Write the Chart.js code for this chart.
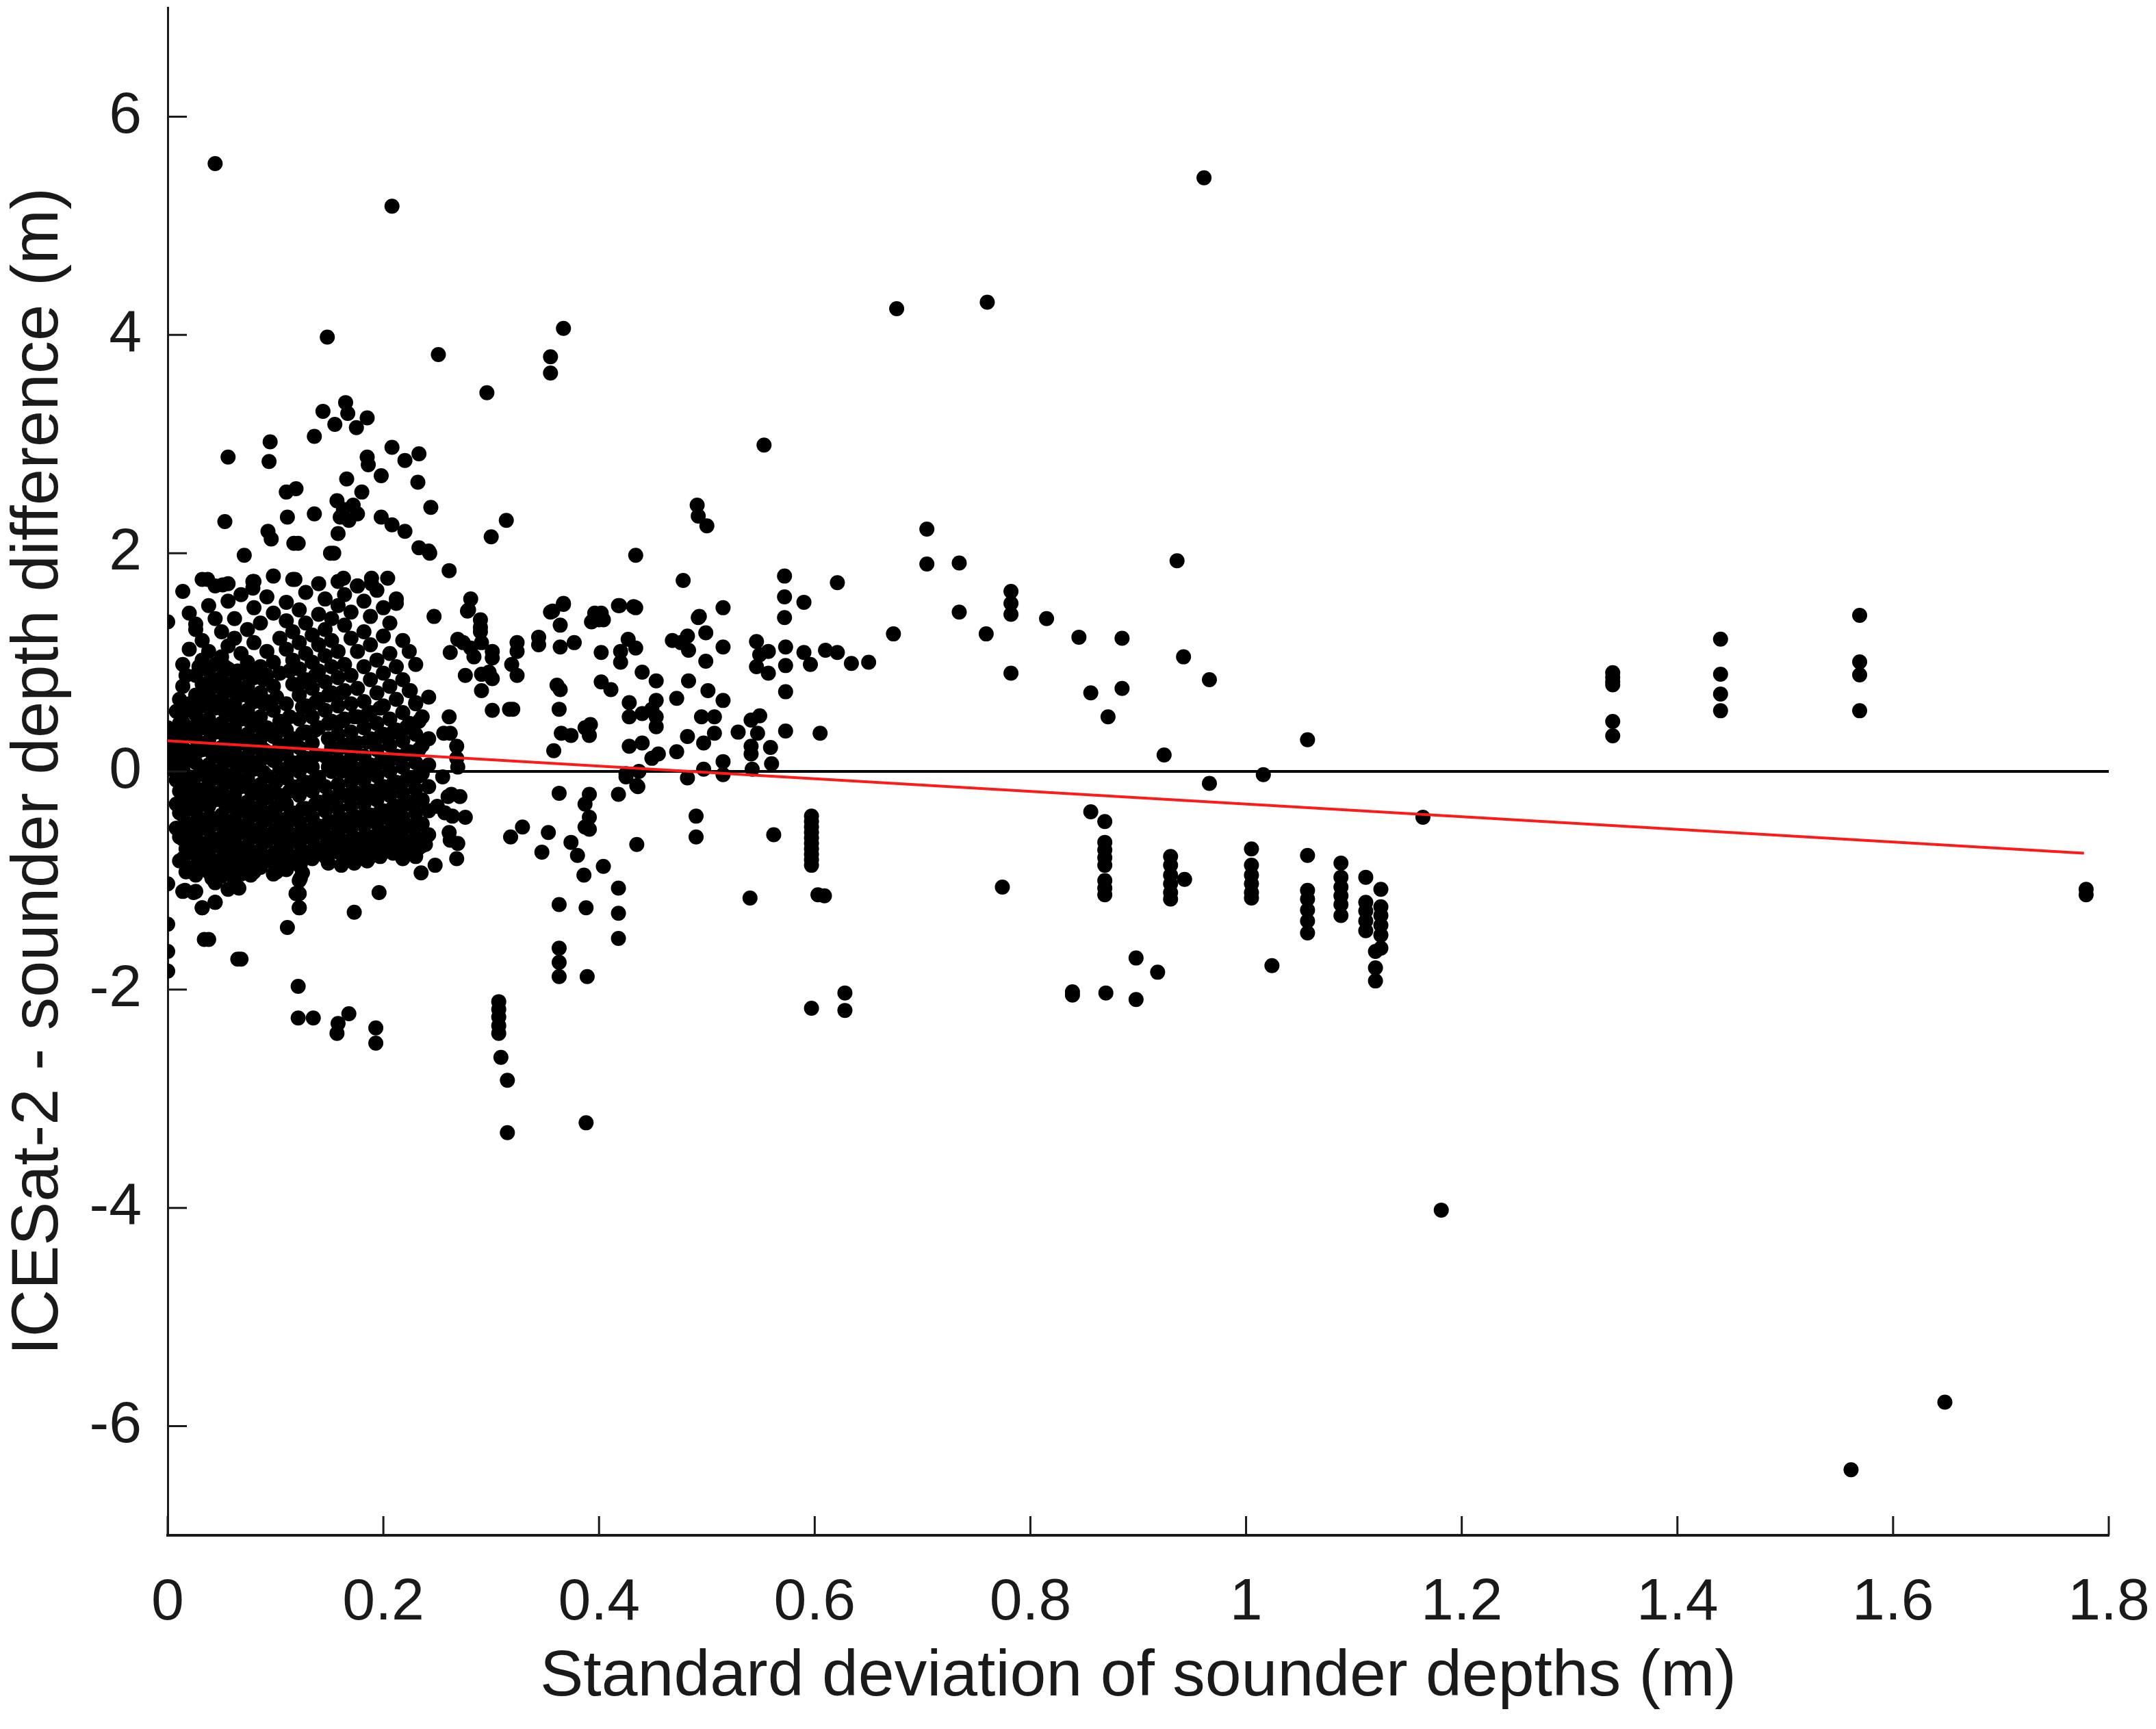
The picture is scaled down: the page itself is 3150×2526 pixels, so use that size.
<!DOCTYPE html>
<html>
<head>
<meta charset="utf-8">
<style>
html,body{margin:0;padding:0;background:#fff;}
canvas{display:block;}
</style>
<script src="https://cdn.jsdelivr.net/npm/chart.js@4.4.1/dist/chart.umd.min.js"></script>
</head>
<body>
<canvas id="c" width="3150" height="2526"></canvas>
<script>
// ---------- axis ticks ----------
const xTicks = [0, 0.2, 0.4, 0.6, 0.8, 1, 1.2, 1.4, 1.6, 1.8];
const xTickLabels = ['0', '0.2', '0.4', '0.6', '0.8', '1', '1.2', '1.4', '1.6', '1.8'];
const yTicks = [-6, -4, -2, 0, 2, 4, 6];
const yTickLabels = ['-6', '-4', '-2', '0', '2', '4', '6'];
const xTitle = 'Standard deviation of sounder depths (m)';
const yTitle = 'ICESat-2 - sounder depth difference (m)';

// ---------- dense cluster, read as columns: [sd, [differences...]] ----------
const clusterColumns = [
  [0.008, [0.55, 0.32, 0.12, -0.08, -0.30, -0.52]],
  [0.014, [1.65, 0.98, 0.78, 0.45, 0.22, 0.02, -0.18, -0.40, -0.62, -0.80, -1.10]],
  [0.020, [1.45, 1.12, 0.62, 0.40, 0.18, -0.05, -0.26, -0.48, -0.68, -0.88]],
  [0.026, [1.35, 1.30, 0.88, 0.70, 0.52, 0.30, 0.08, -0.15, -0.36, -0.58, -0.76, -0.95, -1.10]],
  [0.032, [1.76, 1.20, 1.02, 0.80, 0.60, 0.40, 0.20, -0.02, -0.22, -0.44, -0.66, -0.84, -1.25]],
  [0.038, [1.52, 1.10, 0.92, 0.70, 0.48, 0.28, 0.06, -0.12, -0.32, -0.54, -0.74, -0.92, -1.54]],
  [0.044, [1.70, 1.40, 0.98, 0.78, 0.58, 0.36, 0.14, -0.06, -0.26, -0.48, -0.68, -0.86, -1.02, -1.20]],
  [0.050, [1.28, 1.05, 0.86, 0.66, 0.44, 0.22, 0.02, -0.18, -0.40, -0.60, -0.80, -0.96]],
  [0.056, [1.72, 1.56, 1.15, 0.94, 0.74, 0.52, 0.30, 0.10, -0.10, -0.32, -0.54, -0.74, -0.90, -1.08]],
  [0.062, [1.40, 1.22, 0.82, 0.62, 0.40, 0.18, -0.02, -0.22, -0.44, -0.64, -0.84, -1.00]],
  [0.068, [1.62, 1.08, 0.90, 0.70, 0.48, 0.26, 0.06, -0.14, -0.36, -0.56, -0.76, -0.94, -1.72]],
  [0.074, [1.30, 1.00, 0.78, 0.56, 0.34, 0.14, -0.06, -0.28, -0.48, -0.68, -0.86]],
  [0.080, [1.74, 1.50, 1.18, 0.86, 0.64, 0.42, 0.22, 0.02, -0.20, -0.40, -0.60, -0.78, -0.92]],
  [0.086, [1.36, 0.96, 0.72, 0.50, 0.30, 0.10, -0.12, -0.32, -0.52, -0.72, -0.88]],
  [0.092, [1.60, 1.10, 0.88, 0.64, 0.40, 0.18, -0.04, -0.24, -0.44, -0.64, -0.82]],
  [0.098, [1.79, 1.45, 1.00, 0.78, 0.56, 0.32, 0.10, -0.16, -0.36, -0.56, -0.76, -0.94]],
  [0.104, [1.22, 0.90, 0.46, 0.24, 0.02, -0.22, -0.44, -0.64, -0.84]],
  [0.110, [1.55, 1.38, 1.12, 0.62, 0.38, 0.16, -0.06, -0.30, -0.52, -0.72, -0.90]],
  [0.116, [1.76, 1.28, 1.02, 0.80, 0.30, 0.08, -0.14, -0.38, -0.58, -0.78]],
  [0.122, [1.48, 1.18, 0.94, 0.70, 0.48, 0.22, 0.00, -0.22, -0.46, -0.66, -0.86, -1.00, -1.12, -1.25]],
  [0.128, [1.64, 1.36, 1.08, 0.84, 0.60, 0.36, 0.12, -0.10, -0.34, -0.54, -0.74]],
  [0.134, [1.25, 1.00, 0.76, 0.50, 0.26, 0.04, -0.18, -0.42, -0.62, -0.80]],
  [0.140, [1.72, 1.44, 1.16, 0.92, 0.66, 0.40, -0.06, -0.28, -0.50, -0.70]],
  [0.146, [1.58, 1.30, 1.06, 0.82, 0.56, 0.14, -0.14, -0.36, -0.58, -0.78]],
  [0.152, [1.40, 1.20, 0.96, 0.72, 0.46, 0.22, 0.00, -0.24, -0.46, -0.66]],
  [0.158, [1.74, 1.52, 1.10, 0.86, 0.60, 0.34, 0.10, -0.12, -0.34, -0.56, -0.74]],
  [0.164, [1.62, 1.34, 0.98, 0.74, 0.48, 0.24, 0.02, -0.22, -0.44, -0.64, -0.82]],
  [0.170, [1.46, 1.22, 0.88, 0.62, 0.36, 0.12, -0.10, -0.32, -0.52, -0.72]],
  [0.176, [1.70, 1.10, 0.76, 0.50, 0.26, 0.02, -0.20, -0.42, -0.62, -0.80]],
  [0.182, [1.56, 1.28, 0.96, 0.64, 0.40, 0.14, -0.08, -0.30, -0.50, -0.70]],
  [0.188, [1.42, 1.16, 0.84, 0.54, 0.30, 0.06, -0.18, -0.40, -0.60, -0.78]],
  [0.194, [1.66, 1.02, 0.72, 0.44, 0.20, -0.04, -0.26, -0.48, -0.68]],
  [0.200, [1.50, 1.24, 0.90, 0.60, 0.34, 0.10, -0.14, -0.36, -0.56, -0.74]],
  [0.206, [1.36, 1.08, 0.78, 0.48, 0.24, 0.00, -0.22, -0.44, -0.64]],
  [0.212, [1.58, 0.96, 0.66, 0.38, 0.14, -0.10, -0.32, -0.52, -0.72]],
  [0.218, [1.20, 0.84, 0.54, 0.28, 0.04, -0.20, -0.42, -0.62, -0.80]],
  [0.224, [1.10, 0.74, 0.44, 0.18, -0.06, -0.28, -0.50, -0.70]],
  [0.230, [0.98, 0.62, 0.34, 0.08, -0.16, -0.38, -0.60, -0.78]],
  [0.236, [0.50, 0.24, -0.02, -0.26, -0.48, -0.68]],
  [0.242, [0.68, 0.30, 0.06, -0.14, -0.36, -0.58]]
];

// core of the cluster, read between the columns above
const coreColumns = [
  [0.011, [0.66, 0.44, 0.24, 0.04, -0.18, -0.38, -0.60, -0.82]],
  [0.017, [0.88, 0.56, 0.33, 0.12, -0.08, -0.29, -0.51, -0.71, -0.92]],
  [0.029, [0.96, 0.62, 0.41, 0.19, -0.03, -0.26, -0.47, -0.68, -0.86]],
  [0.041, [0.84, 0.60, 0.38, 0.17, -0.04, -0.22, -0.43, -0.64, -0.82, -0.98]],
  [0.053, [0.96, 0.76, 0.55, 0.33, 0.12, -0.08, -0.29, -0.50, -0.70, -0.88]],
  [0.065, [0.92, 0.72, 0.51, 0.29, 0.08, -0.12, -0.33, -0.54, -0.73, -0.90]],
  [0.077, [0.90, 0.67, 0.45, 0.24, 0.04, -0.17, -0.38, -0.58, -0.77, -0.95]],
  [0.089, [0.84, 0.62, 0.40, 0.20, -0.01, -0.22, -0.42, -0.62, -0.80]],
  [0.101, [0.68, 0.35, 0.13, -0.09, -0.33, -0.54, -0.74, -0.92]],
  [0.113, [0.92, 0.50, 0.27, 0.05, -0.18, -0.41, -0.62, -0.82]],
  [0.125, [0.82, 0.59, 0.35, 0.11, -0.11, -0.34, -0.56, -0.76, -0.93]],
  [0.137, [0.88, 0.63, 0.38, 0.15, -0.07, -0.30, -0.52, -0.72]],
  [0.149, [0.70, 0.44, 0.30, 0.04, -0.25, -0.47, -0.68, -0.84]],
  [0.161, [0.72, 0.46, 0.22, 0.00, -0.22, -0.45, -0.66, -0.86]],
  [0.173, [0.50, 0.24, 0.00, -0.21, -0.43, -0.63, -0.84]],
  [0.185, [0.52, 0.27, 0.03, -0.19, -0.41, -0.61, -0.82]],
  [0.197, [0.58, 0.32, 0.08, -0.15, -0.37, -0.58, -0.78]],
  [0.209, [0.36, 0.12, -0.11, -0.33, -0.54, -0.75]],
  [0.221, [0.40, 0.16, -0.08, -0.30, -0.51, -0.73]],
  [0.233, [0.46, 0.20, -0.04, -0.27, -0.49, -0.70]]
];

// ---------- scattered points [sd, difference] ----------
const axisPoints = [
  [0.0, 1.37], [0.0, 0.40], [0.0, 0.30], [0.0, 0.20], [0.0, 0.10], [0.0, 0.02],
  [0.0, -1.03], [0.0, -1.40], [0.0, -1.65], [0.0, -1.83]
];

const upperPoints = [
  [0.044, 5.57], [0.208, 5.18], [0.148, 3.98], [0.251, 3.82], [0.355, 3.80], [0.355, 3.65],
  [0.367, 4.06], [0.296, 3.47], [0.553, 2.99], [0.676, 4.24], [0.760, 4.30], [0.961, 5.44],
  [0.144, 3.30], [0.165, 3.38], [0.167, 3.28], [0.155, 3.18], [0.175, 3.15], [0.185, 3.24],
  [0.136, 3.07], [0.095, 3.02], [0.094, 2.84], [0.056, 2.88], [0.208, 2.97], [0.220, 2.85],
  [0.233, 2.91], [0.185, 2.88], [0.186, 2.81], [0.198, 2.71], [0.232, 2.65], [0.166, 2.68],
  [0.180, 2.56], [0.157, 2.48], [0.163, 2.40], [0.172, 2.44], [0.160, 2.33], [0.168, 2.30],
  [0.176, 2.36], [0.110, 2.56], [0.119, 2.59], [0.111, 2.33], [0.136, 2.36], [0.053, 2.29],
  [0.198, 2.33], [0.208, 2.26], [0.220, 2.20], [0.244, 2.42], [0.314, 2.30], [0.300, 2.15],
  [0.491, 2.44], [0.492, 2.34], [0.500, 2.25], [0.158, 2.18], [0.093, 2.20], [0.096, 2.13],
  [0.117, 2.09], [0.121, 2.09], [0.151, 2.00], [0.154, 2.00], [0.071, 1.98], [0.233, 2.05],
  [0.243, 2.00], [0.261, 1.84], [0.434, 1.98], [0.242, 2.02]
];

const midPoints = [
  [0.478, 1.75], [0.572, 1.79], [0.572, 1.60], [0.572, 1.41], [0.590, 1.55], [0.515, 1.50],
  [0.493, 1.42], [0.434, 1.50], [0.419, 1.52], [0.367, 1.53], [0.357, 1.47], [0.396, 1.45],
  [0.402, 1.45], [0.281, 1.58], [0.278, 1.47], [0.247, 1.42], [0.212, 1.54], [0.204, 1.77],
  [0.189, 1.77], [0.189, 1.72], [0.163, 1.77], [0.176, 1.70], [0.118, 1.76], [0.079, 1.74],
  [0.079, 1.68], [0.051, 1.71], [0.037, 1.76],
  [0.290, 1.39], [0.290, 1.32], [0.290, 1.28], [0.269, 1.21], [0.274, 1.18], [0.281, 1.13],
  [0.284, 1.05], [0.262, 1.09], [0.291, 1.18], [0.301, 1.10], [0.301, 1.04], [0.298, 0.91],
  [0.291, 0.89], [0.301, 0.85], [0.291, 0.74], [0.276, 0.88], [0.301, 0.56], [0.320, 0.57],
  [0.324, 1.18], [0.324, 1.10], [0.319, 0.98], [0.324, 0.88], [0.344, 1.23], [0.344, 1.16],
  [0.355, 1.46], [0.367, 1.54], [0.364, 1.34], [0.364, 1.14], [0.377, 1.18], [0.361, 0.79],
  [0.364, 0.75], [0.363, 0.57], [0.365, 0.35], [0.374, 0.33], [0.358, 0.19], [0.387, 0.40],
  [0.391, 0.33], [0.392, 0.43], [0.393, 1.37], [0.400, 1.39], [0.404, 1.39], [0.402, 1.09],
  [0.402, 0.82], [0.411, 0.75], [0.418, 1.52], [0.432, 1.51], [0.427, 1.21], [0.434, 1.13],
  [0.420, 1.10], [0.420, 1.00], [0.440, 0.91], [0.453, 0.83], [0.428, 0.63], [0.428, 0.50],
  [0.440, 0.53], [0.449, 0.57], [0.453, 0.65], [0.453, 0.50], [0.453, 0.41], [0.428, 0.23],
  [0.440, 0.26], [0.449, 0.12], [0.455, 0.16], [0.425, -0.02], [0.437, 0.00], [0.468, 1.20],
  [0.476, 1.18], [0.482, 1.24], [0.483, 1.11], [0.492, 1.41], [0.499, 1.27], [0.499, 1.01],
  [0.515, 1.14], [0.483, 0.83], [0.472, 0.67], [0.501, 0.74], [0.515, 0.65], [0.495, 0.50],
  [0.507, 0.50], [0.482, 0.32], [0.497, 0.26], [0.507, 0.35], [0.472, 0.18], [0.497, 0.02],
  [0.515, 0.09], [0.515, -0.03], [0.482, -0.06], [0.529, 0.36], [0.541, 0.47], [0.549, 0.51],
  [0.547, 0.35], [0.541, 0.23], [0.541, 0.16], [0.559, 0.22], [0.542, 0.02], [0.560, 0.07],
  [0.546, 1.19], [0.549, 1.07], [0.557, 1.10], [0.546, 0.96], [0.557, 0.90], [0.573, 1.14],
  [0.573, 0.97], [0.573, 0.73], [0.573, 0.37], [0.590, 1.09], [0.596, 0.98], [0.605, 0.35],
  [0.225, 0.74], [0.230, 0.63], [0.261, 0.50], [0.256, 0.35], [0.262, 0.35], [0.268, 0.23],
  [0.268, 0.12], [0.269, 0.04], [0.255, -0.05], [0.317, 0.57], [0.279, 1.48],
  [0.610, 1.11], [0.621, 1.09], [0.634, 0.99], [0.650, 1.00], [0.621, 1.73],
  [0.704, 2.22], [0.704, 1.90], [0.734, 1.91], [0.734, 1.46], [0.782, 1.65], [0.782, 1.54],
  [0.782, 1.44], [0.815, 1.40], [0.845, 1.23], [0.885, 1.22], [0.936, 1.93], [0.942, 1.05],
  [0.966, 0.84], [0.885, 0.76], [0.856, 0.72], [0.872, 0.50], [0.782, 0.90], [0.759, 1.26],
  [0.673, 1.26], [0.924, 0.15], [1.016, -0.03], [0.966, -0.11], [1.057, 0.29], [1.164, -0.42]
];

const lowerPoints = [
  [0.263, -0.21], [0.250, -0.32], [0.257, -0.38], [0.264, -0.41], [0.276, -0.42], [0.261, -0.56],
  [0.262, -0.63], [0.269, -0.66], [0.239, -0.67], [0.268, -0.80], [0.248, -0.86], [0.235, -0.93],
  [0.260, -0.23], [0.271, -0.23], [0.196, -1.11], [0.173, -1.29],
  [0.363, -0.20], [0.418, -0.21], [0.435, -0.13], [0.391, -0.21], [0.387, -0.30], [0.391, -0.42],
  [0.387, -0.51], [0.391, -0.53], [0.490, -0.41], [0.490, -0.60], [0.562, -0.58],
  [0.597, -0.41], [0.597, -0.46], [0.597, -0.51], [0.597, -0.56], [0.597, -0.61], [0.597, -0.66],
  [0.597, -0.71], [0.597, -0.76], [0.597, -0.81], [0.597, -0.86],
  [0.603, -1.13], [0.540, -1.16], [0.597, -2.17], [0.329, -0.51], [0.318, -0.60], [0.353, -0.56],
  [0.347, -0.74], [0.374, -0.65], [0.380, -0.77], [0.386, -0.95], [0.404, -0.87], [0.435, -0.67],
  [0.418, -1.07], [0.418, -1.30], [0.418, -1.53], [0.363, -1.22], [0.388, -1.25], [0.363, -1.62],
  [0.363, -1.75], [0.363, -1.88], [0.389, -1.88], [0.307, -2.11], [0.307, -2.18], [0.307, -2.25],
  [0.307, -2.33], [0.307, -2.40], [0.309, -2.62], [0.315, -2.83], [0.315, -3.31], [0.388, -3.22],
  [0.628, -2.03], [0.628, -2.19], [0.436, -0.14], [0.425, -0.05],
  [0.020, -0.68], [0.016, -1.09], [0.024, -1.11], [0.032, -1.25], [0.044, -1.20], [0.034, -1.54],
  [0.065, -1.72], [0.066, -1.07], [0.111, -1.43], [0.123, -0.85], [0.123, -0.98], [0.119, -1.12],
  [0.122, -1.25], [0.121, -1.97], [0.121, -2.26], [0.135, -2.26], [0.158, -2.31], [0.157, -2.40],
  [0.168, -2.22], [0.193, -2.35], [0.193, -2.49]
];

const rightPoints = [
  [0.856, -0.37], [0.869, -0.46], [0.869, -0.65], [0.869, -0.72], [0.869, -0.79], [0.869, -0.86],
  [0.869, -1.00], [0.869, -1.07], [0.869, -1.13],
  [0.930, -0.78], [0.930, -0.86], [0.930, -0.95], [0.930, -1.03], [0.930, -1.11], [0.930, -1.17],
  [0.943, -0.99],
  [1.005, -0.71], [1.005, -0.86], [1.005, -0.95], [1.005, -1.03], [1.005, -1.11], [1.005, -1.16],
  [1.057, -0.77], [1.057, -1.09], [1.057, -1.17], [1.057, -1.27], [1.057, -1.37], [1.057, -1.48],
  [1.088, -0.84], [1.088, -0.97], [1.088, -1.06], [1.088, -1.14], [1.088, -1.22], [1.088, -1.32],
  [1.111, -0.97], [1.111, -1.20], [1.111, -1.28], [1.111, -1.37], [1.111, -1.46],
  [1.125, -1.08], [1.125, -1.24], [1.125, -1.32], [1.125, -1.41], [1.125, -1.50], [1.125, -1.62],
  [1.120, -1.65], [1.120, -1.80], [1.120, -1.92],
  [0.839, -2.02], [0.839, -2.05], [0.870, -2.03], [0.898, -1.71], [0.918, -1.84], [0.898, -2.09],
  [1.024, -1.78], [0.774, -1.06], [0.609, -1.14], [1.181, -4.02], [1.561, -6.40], [1.648, -5.78],
  [1.779, -1.08], [1.779, -1.13],
  [1.340, 0.905], [1.340, 0.863], [1.340, 0.821], [1.340, 0.793], [1.340, 0.458], [1.340, 0.326],
  [1.440, 1.212], [1.440, 0.891], [1.440, 0.709], [1.440, 0.556],
  [1.569, 1.430], [1.569, 1.003], [1.569, 0.885], [1.569, 0.556]
];

// fitted regression line and zero reference line
const fitLine = [[0, 0.28], [1.777, -0.75]];
const zeroLine = [[0, 0], [1.8, 0]];

// ---------- build chart data ----------
const toXY = p => ({x: p[0], y: p[1]});
const scatterData = [];
[clusterColumns, coreColumns].forEach(cols =>
  cols.forEach(([x, ys]) => ys.forEach(y => scatterData.push({x, y}))));
[axisPoints, upperPoints, midPoints, lowerPoints, rightPoints].forEach(arr => arr.forEach(p => scatterData.push(toXY(p))));

const FONT = "'Liberation Sans', Arial, Helvetica, sans-serif";
const INK = '#1a1a1a';

const inwardTicks = {
  id: 'inwardTicks',
  afterDraw(chart) {
    const {ctx, chartArea: a, scales: {x, y}} = chart;
    ctx.save();
    ctx.strokeStyle = INK;
    ctx.lineWidth = 3;
    ctx.beginPath();
    xTicks.forEach(v => {
      const px = x.getPixelForValue(v);
      ctx.moveTo(px, a.bottom);
      ctx.lineTo(px, a.bottom - 28);
    });
    yTicks.forEach(v => {
      const py = y.getPixelForValue(v);
      ctx.moveTo(a.left, py);
      ctx.lineTo(a.left + 28, py);
    });
    ctx.stroke();
    ctx.restore();
  }
};

new Chart(document.getElementById('c'), {
  type: 'scatter',
  data: {
    datasets: [
      {
        type: 'line',
        data: fitLine.map(toXY),
        borderColor: '#ff1a1a',
        borderWidth: 4,
        pointRadius: 0,
        fill: false,
        order: 0
      },
      {
        type: 'scatter',
        data: scatterData,
        backgroundColor: '#000',
        borderWidth: 0,
        pointRadius: 11,
        order: 1
      },
      {
        type: 'line',
        data: zeroLine.map(toXY),
        borderColor: '#000',
        borderWidth: 4,
        pointRadius: 0,
        fill: false,
        order: 2
      }
    ]
  },
  plugins: [inwardTicks],
  options: {
    responsive: false,
    devicePixelRatio: 1,
    animation: false,
    events: [],
    layout: {padding: {left: 0, right: 69, top: 7, bottom: 0}},
    plugins: {legend: {display: false}, tooltip: {enabled: false}},
    scales: {
      x: {
        type: 'linear',
        min: 0, max: 1.8,
        afterBuildTicks: s => { s.ticks = xTicks.map(v => ({value: v})); },
        afterFit: s => { s.height = 283; s.paddingLeft = 0; s.paddingRight = 0; },
        grid: {display: false, drawTicks: false},
        border: {display: true, color: INK, width: 4},
        ticks: {
          padding: 48,
          color: INK,
          font: {family: FONT, size: 86},
          maxRotation: 0,
          callback: (v) => { const i = xTicks.indexOf(v); return i >= 0 ? xTickLabels[i] : ''; }
        },
        title: {display: true, text: xTitle, color: INK, font: {family: FONT, size: 95}, padding: {top: 0, bottom: 18}}
      },
      y: {
        type: 'linear',
        min: -7, max: 7,
        afterBuildTicks: s => { s.ticks = yTicks.map(v => ({value: v})); },
        afterFit: s => { s.width = 245; s.paddingTop = 0; s.paddingBottom = 0; },
        grid: {display: false, drawTicks: false},
        border: {display: true, color: INK, width: 3},
        ticks: {
          padding: 38,
          color: INK,
          font: {family: FONT, size: 86},
          callback: (v) => { const i = yTicks.indexOf(v); return i >= 0 ? yTickLabels[i] : ''; }
        },
        title: {display: true, text: yTitle, color: INK, font: {family: FONT, size: 96}, padding: {top: 0, bottom: 0}}
      }
    }
  }
});
</script>
</body>
</html>
